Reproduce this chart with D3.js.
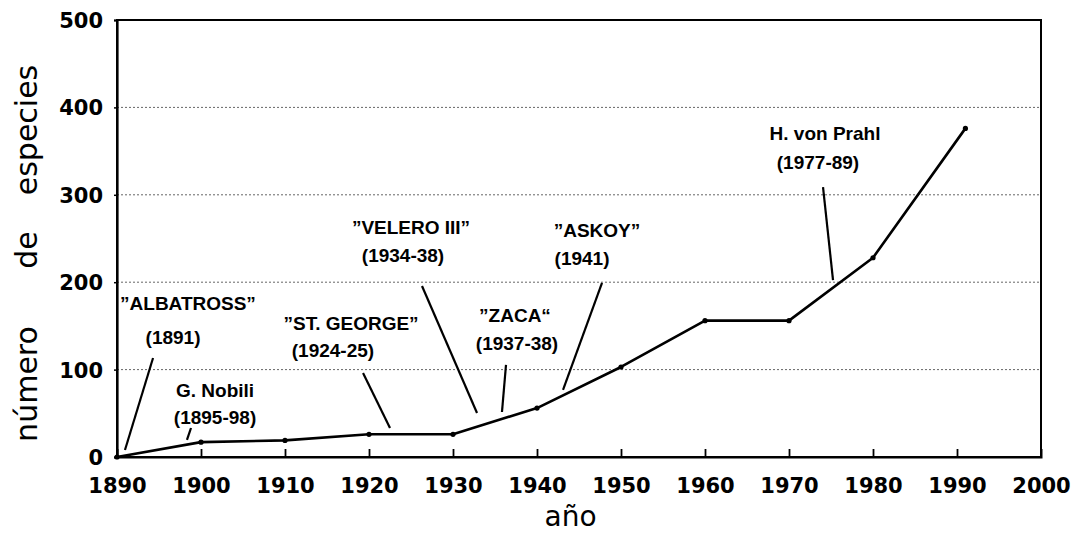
<!DOCTYPE html>
<html>
<head>
<meta charset="utf-8">
<script src="https://cdn.jsdelivr.net/npm/d3@7"></script>
<style>
  html, body { margin: 0; padding: 0; background: #fff; }
  svg { display: block; }
</style>
</head>
<body>
<svg id="chart" width="1078" height="536"></svg>
<script>
// ---- data ----
const years  = [1890, 1900, 1910, 1920, 1930, 1940, 1950, 1960, 1970, 1980, 1991];
const counts = [0, 17, 19, 26, 26, 56, 103, 156, 156, 228, 376];
const xTicks = [1890, 1900, 1910, 1920, 1930, 1940, 1950, 1960, 1970, 1980, 1990, 2000];
const yTicks = [0, 100, 200, 300, 400, 500];
const xTitle = "año";
const yTitleWords = ["número", "de", "especies"];

// annotation labels (two lines each) and leader lines, in data units
const annoLine1 = ["\u201dALBATROSS\u201d", "G. Nobili", "\u201dST. GEORGE\u201d", "\u201dVELERO III\u201d", "\u201dZACA\u201c", "\u201dASKOY\u201d", "H. von Prahl"];
const annoLine2 = ["(1891)", "(1895-98)", "(1924-25)", "(1934-38)", "(1937-38)", "(1941)", "(1977-89)"];
const anno1Pos  = [[1898.45,176.2],[1901.67,76.7],[1917.86,153.3],[1925.0,263.2],[1937.38,162.5],[1947.14,259.7],[1974.29,370.7]];
const anno2Pos  = [[1896.67,137.3],[1901.67,45.8],[1915.71,122.4],[1924.05,231.1],[1937.62,130.4],[1945.36,227.7],[1973.45,337.5]];
const leaderFrom = [[1894.29,113.3],[1898.81,33.2],[1919.29,96.1],[1926.31,195.7],[1936.31,105.3],[1947.74,199.1],[1974.05,308.9]];
const leaderTo   = [[1890.95,8.0],[1898.33,19.5],[1922.5,33.2],[1932.86,50.3],[1935.83,51.5],[1943.1,76.7],[1975.24,202.5]];

// ---- layout ----
const svg = d3.select("#chart");
const plotL = 117, plotR = 1041, plotT = 20, plotB = 457;

const x = d3.scaleLinear().domain([1890, 2000]).range([plotL, plotR]);
const y = d3.scaleLinear().domain([0, 500]).range([plotB, plotT]);

const tickFont = "'DejaVu Sans', sans-serif";
const annoFont = "'Liberation Sans', Arial, sans-serif";

// gridlines
svg.append("g")
  .selectAll("line")
  .data(yTicks.filter(d => d > 0 && d < 500))
  .join("line")
  .attr("x1", plotL).attr("x2", plotR)
  .attr("y1", d => y(d)).attr("y2", d => y(d))
  .attr("stroke", "#666")
  .attr("stroke-width", 1)
  .attr("stroke-dasharray", "2,2");

// frame
svg.append("rect")
  .attr("x", plotL).attr("y", plotT)
  .attr("width", plotR - plotL).attr("height", plotB - plotT)
  .attr("fill", "none")
  .attr("stroke", "#000")
  .attr("stroke-width", 2);

// bottom axis (inward ticks)
const xAxis = d3.axisBottom(x)
  .tickValues(xTicks)
  .tickFormat(d3.format("d"))
  .tickSize(-8)
  .tickPadding(22);
const gx = svg.append("g").attr("transform", `translate(0,${plotB})`).call(xAxis);
gx.select(".domain").attr("stroke", "#000").attr("stroke-width", 2);
gx.selectAll(".tick line").attr("stroke", "#000").attr("stroke-width", 1.8);
gx.selectAll(".tick line").filter(d => d === 1890 || d === 2000).remove();
gx.selectAll(".tick text")
  .attr("font-family", tickFont)
  .attr("font-weight", "bold")
  .attr("font-size", 21)
  .attr("fill", "#000")
  .attr("y", 21)
  .attr("dy", "0.71em");

// left axis
const yAxis = d3.axisLeft(y)
  .tickValues(yTicks)
  .tickFormat(d3.format("d"))
  .tickSize(3)
  .tickPadding(11);
const gy = svg.append("g").attr("transform", `translate(${plotL},0)`).call(yAxis);
gy.select(".domain").attr("stroke", "#000").attr("stroke-width", 2.2);
gy.selectAll(".tick line").attr("stroke", "#000").attr("stroke-width", 1.5);
gy.selectAll(".tick text")
  .attr("font-family", tickFont)
  .attr("font-weight", "bold")
  .attr("font-size", 21)
  .attr("fill", "#000")
  .attr("dy", "0.36em");

// axis titles
svg.append("text")
  .attr("x", x(1944)).attr("y", 526)
  .attr("text-anchor", "middle")
  .attr("font-family", tickFont)
  .attr("font-size", 28)
  .attr("fill", "#000")
  .text(xTitle);

const yTitleCenters = [384, 250, 130];
yTitleWords.forEach((w, i) => {
  svg.append("text")
    .attr("transform", `translate(37,${yTitleCenters[i]}) rotate(-90)`)
    .attr("text-anchor", "middle")
    .attr("font-family", tickFont)
    .attr("font-size", 30)
    .attr("fill", "#000")
    .text(w);
});

// data line
const points = years.map((yr, i) => [yr, counts[i]]);
svg.append("path")
  .datum(points)
  .attr("fill", "none")
  .attr("stroke", "#000")
  .attr("stroke-width", 2.6)
  .attr("stroke-linejoin", "round")
  .attr("d", d3.line().x(d => x(d[0])).y(d => y(d[1])));

svg.append("g")
  .selectAll("circle")
  .data(points)
  .join("circle")
  .attr("cx", d => x(d[0])).attr("cy", d => y(d[1]))
  .attr("r", 2.6)
  .attr("fill", "#000");

// annotations
const annoG = svg.append("g");
annoLine1.forEach((t, i) => {
  annoG.append("text")
    .attr("x", x(anno1Pos[i][0])).attr("y", y(anno1Pos[i][1]))
    .attr("dy", "0.36em")
    .attr("text-anchor", "middle")
    .attr("font-family", annoFont)
    .attr("font-weight", "bold")
    .attr("font-size", 19)
    .attr("fill", "#000")
    .text(t);
  annoG.append("text")
    .attr("x", x(anno2Pos[i][0])).attr("y", y(anno2Pos[i][1]))
    .attr("dy", "0.36em")
    .attr("text-anchor", "middle")
    .attr("font-family", annoFont)
    .attr("font-weight", "bold")
    .attr("font-size", 19)
    .attr("fill", "#000")
    .text(annoLine2[i]);
  annoG.append("line")
    .attr("x1", x(leaderFrom[i][0])).attr("y1", y(leaderFrom[i][1]))
    .attr("x2", x(leaderTo[i][0])).attr("y2", y(leaderTo[i][1]))
    .attr("stroke", "#000")
    .attr("stroke-width", 2.2);
});
</script>
</body>
</html>
